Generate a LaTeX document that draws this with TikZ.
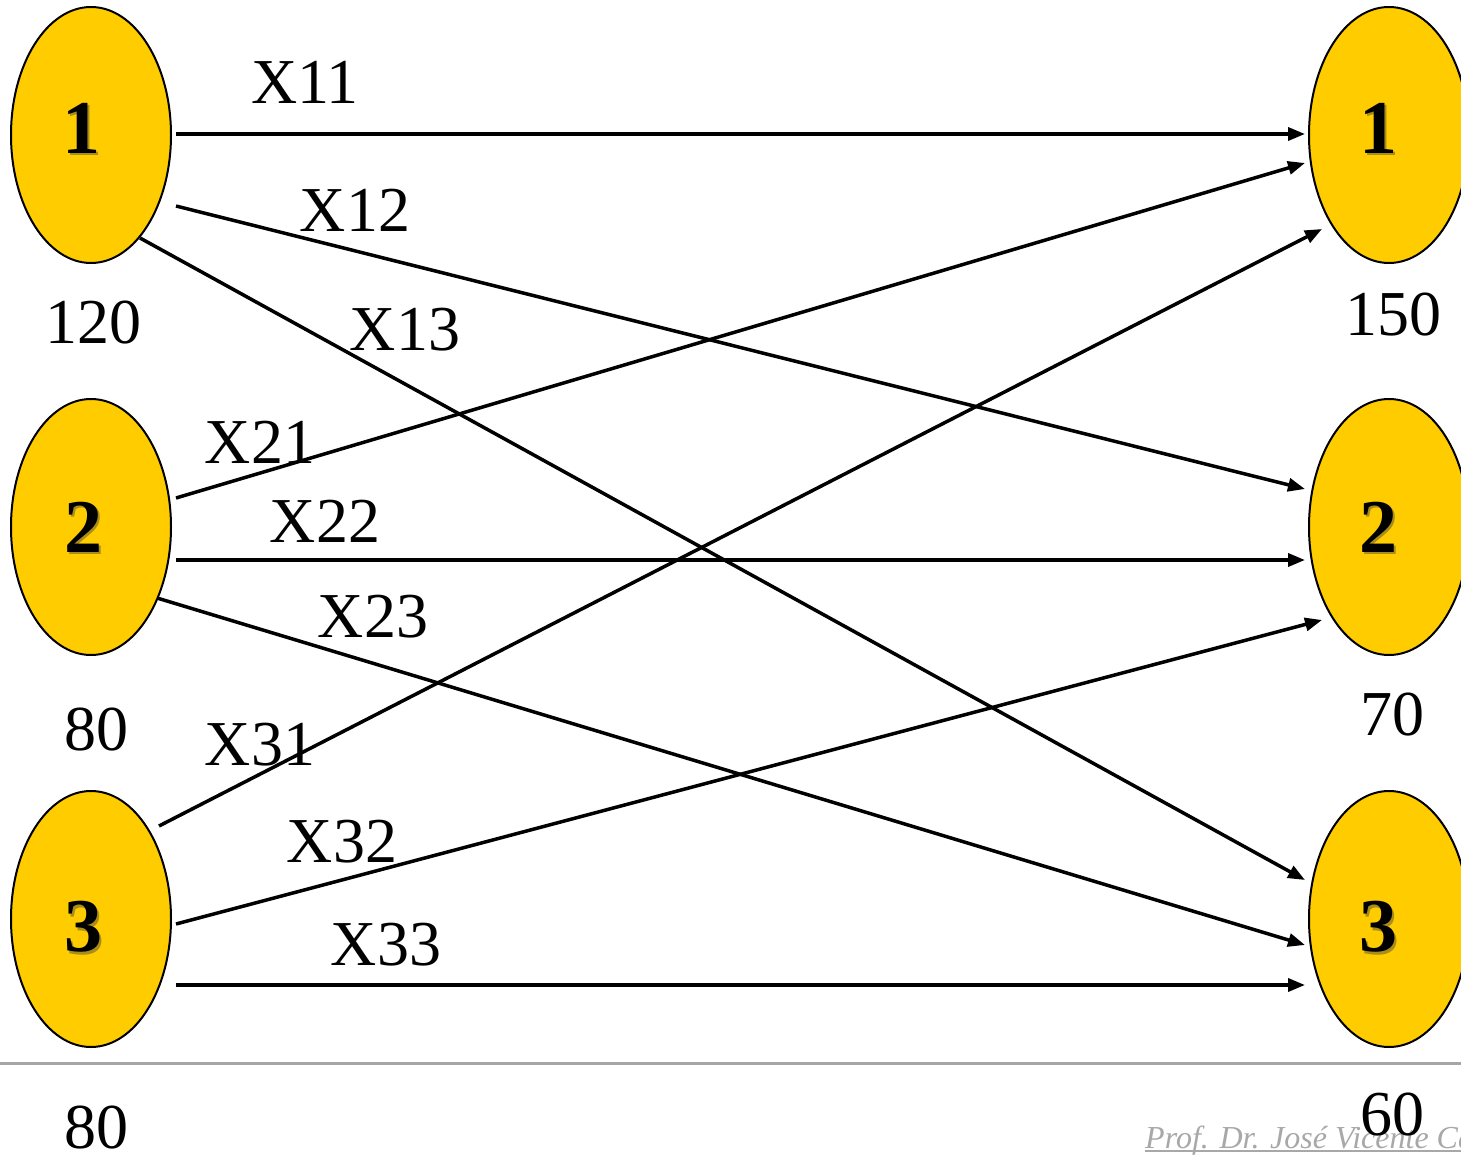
\documentclass[tikz,border=0pt]{standalone}
\usepackage{fontspec}
\setmainfont{Liberation Serif}
\usetikzlibrary{shapes.geometric,arrows.meta}
\definecolor{gold}{HTML}{FFCC00}
\definecolor{footgray}{HTML}{A8A8A8}
\tikzset{
  site/.style={ellipse,draw=black,line width=2pt,fill=gold,minimum width=160pt,minimum height=256pt,inner sep=0pt},
  digit/.style={font=\fontsize{76}{78}\selectfont\bfseries,inner sep=0pt},
  shadowdigit/.style={font=\fontsize{76}{78}\selectfont\bfseries,inner sep=0pt,text=black!75,opacity=0.45},
  lbl/.style={font=\fontsize{64}{66}\selectfont,inner sep=0pt},
  flow/.style={line width=3.5pt,-{Triangle[length=17pt,width=13pt]}},
}
\begin{document}
\begin{tikzpicture}[x=1pt,y=-1pt]
\useasboundingbox (0,0) rectangle (1461,1155);
\clip (0,0) rectangle (1461,1155);
\fill[white] (0,0) rectangle (1461,1155);
% separator line
\draw[line width=3pt,color=black!35] (0,1063) -- (1461,1063);
% sites
\node[site] (L1) at (91,135) {};
\node[site] (L2) at (91,527) {};
\node[site] (L3) at (91,919) {};
\node[site] (R1) at (1389,135) {};
\node[site] (R2) at (1389,527) {};
\node[site] (R3) at (1389,919) {};
% digits with shadow
\foreach \n/\d/\px/\py in {L1/1/81/128,L2/2/83/527,L3/3/83/927,R1/1/1378/128,R2/2/1378/527,R3/3/1378/927}{
  \node[shadowdigit] at (\px+2.5,\py+2.5) {\d};
  \node[digit] (t\n) at (\px,\py) {\d};
}
% connector end points
\coordinate (s11) at (176,134);  \coordinate (e11) at (1305,134);
\coordinate (s12) at (176,206);  \coordinate (e12) at (1305,489);
\coordinate (s13) at (140,238);  \coordinate (e13) at (1305,880);
\coordinate (s21) at (176,498);  \coordinate (e21) at (1305,163);
\coordinate (s22) at (176,560);  \coordinate (e22) at (1305,560);
\coordinate (s23) at (157,598);  \coordinate (e23) at (1305,945);
\coordinate (s31) at (159,826);  \coordinate (e31) at (1322,229);
\coordinate (s32) at (176,924);  \coordinate (e32) at (1322,620);
\coordinate (s33) at (176,985);  \coordinate (e33) at (1305,985);
\foreach \k in {11,12,13,21,22,23,31,32,33}{
  \draw[flow] (s\k) -- (e\k);
}
% flow labels
\node[lbl] (x11) at (305,82) {X11};
\node[lbl] (x12) at (355,210) {X12};
\node[lbl] (x13) at (405,330) {X13};
\node[lbl] (x21) at (260,442) {X21};
\node[lbl] (x22) at (325,521) {X22};
\node[lbl] (x23) at (373,617) {X23};
\node[lbl] (x31) at (260,745) {X31};
\node[lbl] (x32) at (342,842) {X32};
\node[lbl] (x33) at (386,945) {X33};
% supplies and demands
\node[lbl] (a1) at (93,323) {120};
\node[lbl] (a2) at (96,730) {80};
\node[lbl] (a3) at (96,1128) {80};
% footer
\node[anchor=base west,inner sep=0pt,text=footgray,font=\fontsize{32}{34}\selectfont\itshape] (foot) at (1145,1148) {Prof. Dr. José Vicente Ca};
\draw[footgray,line width=1.5pt] (1145,1151) -- (1461,1151);
\node[lbl] (b1) at (1393,315) {150};
\node[lbl] (b2) at (1392,715) {70};
\node[lbl] (b3) at (1392,1115) {60};
\end{tikzpicture}
\end{document}
